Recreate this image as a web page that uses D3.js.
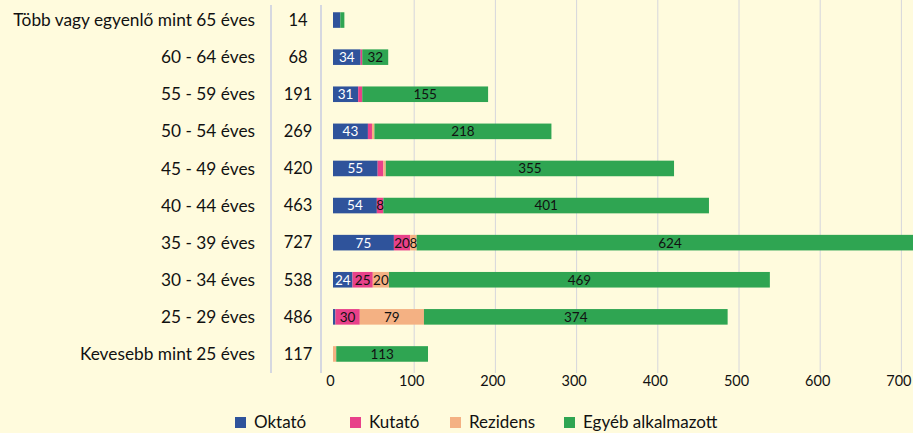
<!DOCTYPE html>
<html>
<head>
<meta charset="utf-8">
<script src="https://cdn.jsdelivr.net/npm/d3@7"></script>
<style>
  html, body { margin: 0; padding: 0; background: #fffbdd; }
  svg { display: block; font-family: Lato, 'Open Sans', sans-serif; }
</style>
</head>
<body>
<svg width="913" height="433"></svg>
<script>
// categories, top to bottom
const categories = [
    'Több vagy egyenlő mint 65 éves',
    '60 - 64 éves',
    '55 - 59 éves',
    '50 - 54 éves',
    '45 - 49 éves',
    '40 - 44 éves',
    '35 - 39 éves',
    '30 - 34 éves',
    '25 - 29 éves',
    'Kevesebb mint 25 éves'
];
const totals = [14, 68, 191, 269, 420, 463, 727, 538, 486, 117];

const seriesNames = ['Oktató', 'Kutató', 'Rezidens', 'Egyéb alkalmazott'];
const oktato = [9, 34, 31, 43, 55, 54, 75, 24, 3, 0];
const kutato = [0, 2, 5, 5, 7, 8, 20, 25, 30, 0];
const rezidens = [0, 0, 0, 3, 3, 0, 8, 20, 79, 4];
const egyeb = [5, 32, 155, 218, 355, 401, 624, 469, 374, 113];

const tickValues = [0, 100, 200, 300, 400, 500, 600, 700];

const colors = ['#2f539b', '#e8418a', '#f4b183', '#2fa552'];
const labelColors = ['#ffffff', '#111111', '#111111', '#111111'];

const svg = d3.select('svg');

svg.append('rect')
    .attr('width', 913)
    .attr('height', 433)
    .attr('fill', '#fffbdd');

const rows = categories.map((c, i) => ({
    cat: c,
    total: totals[i],
    'Oktató': oktato[i],
    'Kutató': kutato[i],
    'Rezidens': rezidens[i],
    'Egyéb alkalmazott': egyeb[i]
}));

const x = d3.scaleLinear().domain([0, 800]).range([333, 982.6]);
const y = d3
    .scaleBand()
    .domain(categories)
    .range([1.5, 372.5])
    .paddingInner(0.58)
    .paddingOuter(0.29);

// gridlines
svg.append('g')
    .selectAll('line')
    .data(tickValues.filter((t) => t > 0))
    .enter()
    .append('line')
    .attr('x1', (d) => x(d))
    .attr('x2', (d) => x(d))
    .attr('y1', 0)
    .attr('y2', 373)
    .attr('stroke', '#d6d6dc')
    .attr('stroke-width', 1);

// table separators
[271, 321].forEach((sx) => {
    svg.append('line')
        .attr('x1', sx)
        .attr('x2', sx)
        .attr('y1', 5)
        .attr('y2', 373)
        .attr('stroke', '#d6d8e0')
        .attr('stroke-width', 2);
});

// category labels and totals
svg.append('g')
    .selectAll('text')
    .data(rows)
    .enter()
    .append('text')
    .attr('x', 255)
    .attr('y', (d) => y(d.cat) + y.bandwidth() / 2)
    .attr('dy', '0.35em')
    .attr('text-anchor', 'end')
    .attr('font-size', 17.3)
    .attr('fill', '#111')
    .text((d) => d.cat);

svg.append('g')
    .selectAll('text')
    .data(rows)
    .enter()
    .append('text')
    .attr('x', 298)
    .attr('y', (d) => y(d.cat) + y.bandwidth() / 2)
    .attr('dy', '0.35em')
    .attr('text-anchor', 'middle')
    .attr('font-size', 16.5)
    .attr('fill', '#111')
    .text((d) => d.total);

// stacked bars
const stacked = d3.stack().keys(seriesNames)(rows);

const layer = svg
    .append('g')
    .selectAll('g')
    .data(stacked)
    .enter()
    .append('g')
    .attr('fill', (d, i) => colors[i]);

layer
    .selectAll('rect')
    .data((d) => d)
    .enter()
    .append('rect')
    .attr('x', (d) => x(d[0]))
    .attr('y', (d) => y(d.data.cat))
    .attr('width', (d) => x(d[1]) - x(d[0]))
    .attr('height', y.bandwidth());

// segment labels, skipped on tiny rows
stacked.forEach((s, si) => {
    svg.append('g')
        .selectAll('text')
        .data(s.filter((d) => d[1] - d[0] >= 8 && d.data.total >= 20))
        .enter()
        .append('text')
        .attr('x', (d) => (x(d[0]) + x(d[1])) / 2)
        .attr('y', (d) => y(d.data.cat) + y.bandwidth() / 2)
        .attr('dy', '0.36em')
        .attr('text-anchor', 'middle')
        .attr('font-size', 13.5)
        .attr('fill', labelColors[si])
        .text((d) => d[1] - d[0]);
});

// x axis
const axis = svg
    .append('g')
    .attr('transform', 'translate(0,373)')
    .call(d3.axisBottom(x).tickValues(tickValues).tickSize(0).tickPadding(3));
axis.select('.domain').remove();
axis.selectAll('text')
    .attr('dx', -3)
    .attr('font-size', 14.5)
    .attr('font-family', 'Lato, sans-serif')
    .attr('fill', '#111');

// legend
const legendX = [235, 350, 450, 564];
const legend = svg
    .append('g')
    .selectAll('g')
    .data(seriesNames)
    .enter()
    .append('g')
    .attr('transform', (d, i) => `translate(${legendX[i]},417)`);
legend.append('rect')
    .attr('width', 11)
    .attr('height', 11)
    .attr('fill', (d, i) => colors[i]);
legend.append('text')
    .attr('x', 19)
    .attr('y', 5.5)
    .attr('dy', '0.35em')
    .attr('font-size', 17)
    .attr('fill', '#111')
    .text((d) => d);
</script>
</body>
</html>
